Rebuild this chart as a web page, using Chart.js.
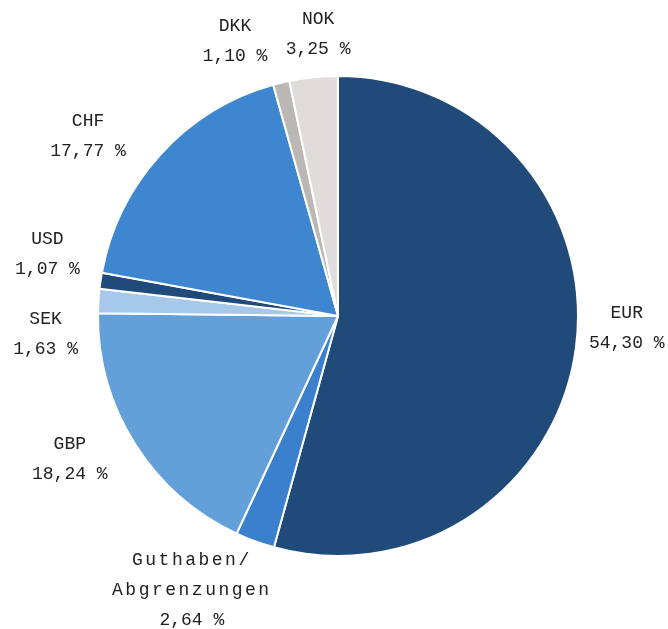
<!DOCTYPE html>
<html>
<head>
<meta charset="utf-8">
<script src="https://cdn.jsdelivr.net/npm/chart.js@4"></script>
<style>
html,body{margin:0;padding:0;background:#fff;}
#wrap{width:668px;height:629px;position:relative;}
</style>
</head>
<body>
<div id="wrap"><canvas id="c" width="668" height="629"></canvas></div>
<script>
const categories = ["EUR", "Guthaben/\nAbgrenzungen", "GBP", "SEK", "USD", "CHF", "DKK", "NOK"];
const shares = [54.30, 2.64, 18.24, 1.63, 1.07, 17.77, 1.10, 3.25];
const valueLabels = ["54,30 %", "2,64 %", "18,24 %", "1,63 %", "1,07 %", "17,77 %", "1,10 %", "3,25 %"];
const sliceColors = ["#1f4a79", "#3a80cc", "#63a0d9", "#a6c9eb", "#1f4a79", "#3e86cf", "#bbb7b5", "#e0dcdb"];

// label layout: angular nudge (deg) and radial extra distance beyond the pie edge (px)
const labelAngleNudge = [-5.3, 7.8, 4.1, -7.1, 3.5, -6.6, -6.9, 1.8];
const labelExtra = [49, 71, 64, 53, 57, 68, 53, 42];

const labelPlugin = {
  id: 'outLabels',
  afterDatasetsDraw(chart) {
    const ctx = chart.ctx;
    const meta = chart.getDatasetMeta(0);
    ctx.save();
    ctx.font = '18px "Liberation Mono", "Courier New", monospace';
    ctx.fillStyle = '#222222';
    ctx.textAlign = 'center';
    ctx.textBaseline = 'middle';
    meta.data.forEach((arc, i) => {
      const p = arc.getProps(['x','y','startAngle','endAngle','outerRadius'], true);
      const mid = (p.startAngle + p.endAngle) / 2 + labelAngleNudge[i] * Math.PI / 180;
      const d = p.outerRadius + labelExtra[i];
      const cx = p.x + Math.cos(mid) * d;
      const cy = p.y + Math.sin(mid) * d;
      const lines = categories[i].split("\n").concat([valueLabels[i]]);
      const lh = 30;
      const top = cy - (lines.length - 1) * lh / 2;
      lines.forEach((t, k) => {
        ctx.letterSpacing = /[a-z]/.test(t) ? '2.5px' : '0px';
        ctx.fillText(t, cx, top + k * lh);
      });
    });
    ctx.restore();
  }
};

new Chart(document.getElementById('c'), {
  type: 'pie',
  data: {
    labels: categories,
    datasets: [{
      data: shares,
      backgroundColor: sliceColors,
      borderColor: '#ffffff',
      borderWidth: 2,
      radius: 240
    }]
  },
  options: {
    responsive: false,
    animation: false,
    layout: { padding: { left: 8, top: 3, right: 0, bottom: 0 } },
    plugins: { legend: { display: false }, tooltip: { enabled: false } }
  },
  plugins: [labelPlugin]
});
</script>
</body>
</html>
